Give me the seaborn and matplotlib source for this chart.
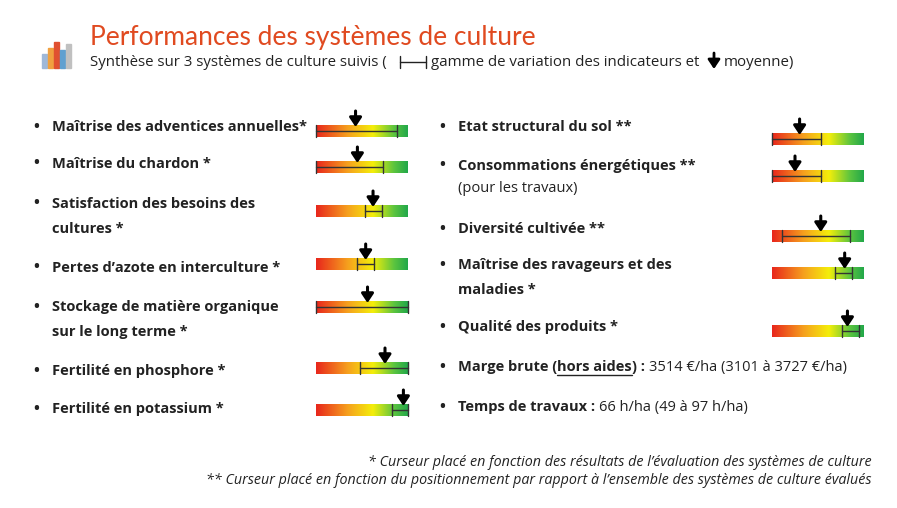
import numpy as np
import matplotlib
matplotlib.use("Agg")
import matplotlib.pyplot as plt
import seaborn as sns
from matplotlib.colors import LinearSegmentedColormap

sns.set_theme(style="white")
plt.rcParams["font.family"] = "Open Sans"

# indicator values, as fractions of the gauge (0 = red end, 1 = green end)
left_labels = [
    ["Maîtrise des adventices annuelles*"],
    ["Maîtrise du chardon *"],
    ["Satisfaction des besoins des", "cultures *"],
    ["Pertes d’azote en interculture *"],
    ["Stockage de matière organique", "sur le long terme *"],
    ["Fertilité en phosphore *"],
    ["Fertilité en potassium *"],
]
left_low = [0.00, 0.00, 0.53, 0.45, 0.00, 0.48, 0.83]
left_high = [0.88, 0.73, 0.72, 0.63, 1.00, 1.00, 1.00]
left_mean = [0.43, 0.45, 0.62, 0.54, 0.56, 0.75, 0.95]

right_labels = [
    ["Etat structural du sol **"],
    ["Consommations énergétiques **"],
    ["Diversité cultivée **"],
    ["Maîtrise des ravageurs et des", "maladies *"],
    ["Qualité des produits *"],
]
right_low = [0.00, 0.00, 0.11, 0.69, 0.76]
right_high = [0.53, 0.53, 0.85, 0.87, 0.95]
right_mean = [0.30, 0.25, 0.53, 0.79, 0.82]

# layout (pixels)
left_text_y = [127, 164, 204, 268, 307, 371, 409]
left_bar_y = [131, 167, 211, 264, 307, 368, 410]
right_text_y = [127, 166, 229, 265, 327]
right_bar_y = [139, 176, 236, 273, 331]

cmap = LinearSegmentedColormap.from_list(
    "gauge", [(0, "#e8261c"), (0.35, "#f6a21e"), (0.62, "#f4ee0a"), (0.85, "#5cc43f"), (1, "#22a84a")])

fig = plt.figure(figsize=(8.97, 5.08), dpi=100)
ax = fig.add_axes([0, 0, 1, 1])
ax.set_xlim(0, 897)
ax.set_ylim(508, 0)
ax.axis("off")
grad = np.linspace(0, 1, 256)[None, :]
FS = 10.5


def arrow(x, ytop, ybot, lw=2.2):
    ax.annotate("", xy=(x, ybot), xytext=(x, ytop),
                arrowprops=dict(arrowstyle="-|>,head_width=0.3,head_length=0.45", color="black",
                                lw=lw, shrinkA=0, shrinkB=0), zorder=3)


def gauge(x0, yc, low, high, mean, w=92, h=12):
    ax.imshow(grad, cmap=cmap, extent=(x0, x0 + w, yc + h / 2, yc - h / 2), aspect="auto", zorder=1)
    xl, xh, xm = x0 + low * w, x0 + high * w, x0 + mean * w
    ax.plot([xl, xh], [yc, yc], color="#333", lw=1, zorder=2)
    for xx in (xl, xh):
        ax.plot([xx, xx], [yc - h / 2, yc + h / 2], color="#333", lw=1, zorder=2)
    arrow(xm, yc - 20, yc - 4)


def labels(x, ys, lines_list):
    for y, lines in zip(ys, lines_list):
        ax.text(x - 20, y, "•", fontsize=15, va="center", color="#222")
        for i, ln in enumerate(lines):
            ax.text(x, y + i * 25, ln, fontsize=FS, fontweight="bold", va="center", color="#222")


labels(52, left_text_y, left_labels)
labels(458, right_text_y, right_labels)
ax.text(458, 188, "(pour les travaux)", fontsize=FS, va="center", color="#222")

for i in range(len(left_low)):
    gauge(316, left_bar_y[i], left_low[i], left_high[i], left_mean[i])
for i in range(len(right_low)):
    gauge(772, right_bar_y[i], right_low[i], right_high[i], right_mean[i])

fig.canvas.draw()
rend = fig.canvas.get_renderer()


def seq(x, y, parts):
    for txt, bold, under in parts:
        t = ax.text(x, y, txt, fontsize=FS, fontweight="bold" if bold else "normal", va="center", color="#222")
        bb = t.get_window_extent(rend)
        if under:
            ax.plot([x, x + bb.width], [y + 8, y + 8], color="#222", lw=1)
        x += bb.width


ax.text(438, 367, "•", fontsize=15, va="center", color="#222")
seq(458, 367, [("Marge brute (", True, False), ("hors aides", True, True), (") : ", True, False),
               ("3514 €/ha (3101 à 3727 €/ha)", False, False)])
ax.text(438, 407, "•", fontsize=15, va="center", color="#222")
seq(458, 407, [("Temps de travaux : ", True, False), ("66 h/ha (49 à 97 h/ha)", False, False)])

# header
ax.text(90, 37, "Performances des systèmes de culture", fontsize=19, color="#e04a20",
        family="Lato", va="center")
ax.text(90, 62, "Synthèse sur 3 systèmes de culture suivis (", fontsize=10.8, va="center", color="#222")
ax.plot([400, 426], [62, 62], color="#222", lw=1)
for xx in (400, 426):
    ax.plot([xx, xx], [56, 68], color="#222", lw=1)
ax.text(431, 62, "gamme de variation des indicateurs et", fontsize=10.8, va="center", color="#222")
arrow(714, 53, 69, lw=2)
ax.text(724, 62, "moyenne)", fontsize=10.8, va="center", color="#222")

# icon
icon_h = [14, 20, 26, 18, 24]
icon_c = ["#9fb8d8", "#f0a040", "#e05030", "#60a0d0", "#c0c0c0"]
for k, (hh, cc) in enumerate(zip(icon_h, icon_c)):
    ax.add_patch(plt.Rectangle((42 + k * 6, 68 - hh), 4.5, hh, color=cc))

ax.text(872, 462, "* Curseur placé en fonction des résultats de l’évaluation des systèmes de culture",
        fontsize=10.3, style="italic", ha="right", va="center", color="#222")
ax.text(872, 481, "** Curseur placé en fonction du positionnement par rapport à l’ensemble des systèmes de culture évalués",
        fontsize=10.3, style="italic", ha="right", va="center", color="#222")

fig.savefig("out.png", dpi=100)
